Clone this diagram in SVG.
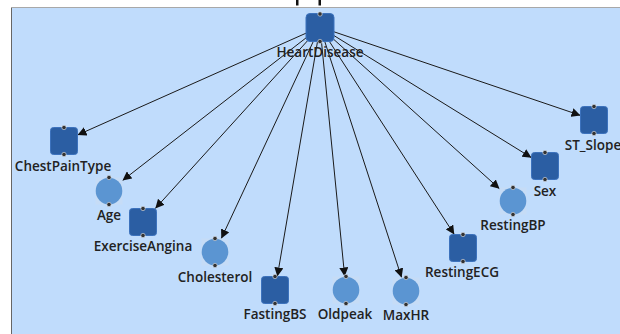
<svg xmlns="http://www.w3.org/2000/svg" width="620" height="334" viewBox="0 0 620 334">
<style>
.bg{fill:#c0dcfc}
.sq{fill:#2b5ea3;stroke:#3c72bd;stroke-width:1}
.ci{fill:#5b95d2}
.cib{fill:#c6dcf6}
.port{fill:#333;stroke:#e8eef8;stroke-width:0.6}
.lbl{font-family:"Open Sans","DejaVu Sans",sans-serif;font-size:13.5px;font-weight:600;fill:#222;text-anchor:middle}
.edge{stroke:#1a1a1a;stroke-width:1;fill:none;marker-end:url(#arr)}
</style>
<defs>
<marker id="arr" viewBox="0 0 10 10" refX="10" refY="5" markerWidth="9" markerHeight="9" markerUnits="userSpaceOnUse" orient="auto">
<path d="M0,0 L10,5 L0,10 z" fill="#111"/>
</marker>
</defs>
<rect x="0" y="0" width="620" height="334" fill="#ffffff"/>
<rect class="bg" x="11" y="8" width="609" height="326"/>
<line x1="11" y1="7.5" x2="620" y2="7.5" stroke="#a8a8a8" stroke-width="1"/>
<line x1="11.5" y1="8" x2="11.5" y2="334" stroke="#666" stroke-width="1"/>
<rect x="296" y="0" width="2.5" height="5.5" fill="#111"/>
<rect x="318.5" y="0" width="2.5" height="5.5" fill="#111"/>
<g id="connectors">
<line class="edge" x1="306" y1="33.2" x2="77.5" y2="135"/>
<line class="edge" x1="306" y1="37.9" x2="122.5" y2="180.5"/>
<line class="edge" x1="307.3" y1="41" x2="155.3" y2="208.5"/>
<line class="edge" x1="313.5" y1="41" x2="221.3" y2="238.5"/>
<line class="edge" x1="317.6" y1="41" x2="277.3" y2="276.5"/>
<line class="edge" x1="321.4" y1="41" x2="344.7" y2="276.5"/>
<line class="edge" x1="324.6" y1="41" x2="401.6" y2="277.5"/>
<line class="edge" x1="329.1" y1="41" x2="454.3" y2="234.5"/>
<line class="edge" x1="334" y1="39.6" x2="499.5" y2="188.8"/>
<line class="edge" x1="334" y1="35.6" x2="531.5" y2="157.7"/>
<line class="edge" x1="334" y1="31.8" x2="580.5" y2="115.4"/>
</g>
<g id="HeartDisease">
<rect class="sq" x="306" y="13.5" width="28" height="28" rx="4" stroke="#5a8ff0"/>
<circle class="port" cx="320" cy="14" r="2.2"/>
<circle class="port" cx="320" cy="41.5" r="2.2"/>
<text class="lbl" x="320" y="57">HeartDisease</text>
</g>
<g id="ChestPainType">
<rect class="sq" x="50.5" y="127.5" width="27" height="27" rx="3"/>
<circle class="port" cx="64" cy="127.5" r="2.2"/>
<circle class="port" cx="64" cy="154.5" r="2.2"/>
<text class="lbl" x="63" y="171">ChestPainType</text>
</g>
<g id="Age">
<rect class="cib" x="95.5" y="177.5" width="27" height="27"/>
<circle class="ci" cx="109" cy="191" r="13.3"/>
<circle class="port" cx="109" cy="177.5" r="2.2"/>
<circle class="port" cx="109" cy="204.5" r="2.2"/>
<text class="lbl" x="109" y="220">Age</text>
</g>
<g id="ExerciseAngina">
<rect class="sq" x="129.5" y="208.5" width="27" height="27" rx="3"/>
<circle class="port" cx="143" cy="208.5" r="2.2"/>
<circle class="port" cx="143" cy="235.5" r="2.2"/>
<text class="lbl" x="143" y="251">ExerciseAngina</text>
</g>
<g id="Cholesterol">
<rect class="cib" x="201.5" y="238.5" width="27" height="27"/>
<circle class="ci" cx="215" cy="252" r="13.3"/>
<circle class="port" cx="215" cy="238.5" r="2.2"/>
<circle class="port" cx="215" cy="265.5" r="2.2"/>
<text class="lbl" x="215" y="282">Cholesterol</text>
</g>
<g id="FastingBS">
<rect class="sq" x="261.5" y="276.5" width="27" height="27" rx="3"/>
<circle class="port" cx="275" cy="276.5" r="2.2"/>
<circle class="port" cx="275" cy="303.5" r="2.2"/>
<text class="lbl" x="275" y="319">FastingBS</text>
</g>
<g id="Oldpeak">
<rect class="cib" x="332.5" y="276.5" width="27" height="27"/>
<circle class="ci" cx="346" cy="290" r="13.3"/>
<circle class="port" cx="346" cy="276.5" r="2.2"/>
<circle class="port" cx="346" cy="303.5" r="2.2"/>
<text class="lbl" x="345" y="319">Oldpeak</text>
</g>
<g id="MaxHR">
<rect class="cib" x="392.5" y="277.5" width="27" height="27"/>
<circle class="ci" cx="406" cy="291" r="13.3"/>
<circle class="port" cx="406" cy="277.5" r="2.2"/>
<circle class="port" cx="406" cy="304.5" r="2.2"/>
<text class="lbl" x="406" y="320">MaxHR</text>
</g>
<g id="RestingECG">
<rect class="sq" x="449.5" y="234.5" width="27" height="27" rx="3"/>
<circle class="port" cx="463" cy="234.5" r="2.2"/>
<circle class="port" cx="463" cy="261.5" r="2.2"/>
<text class="lbl" x="462" y="277">RestingECG</text>
</g>
<g id="RestingBP">
<rect class="cib" x="499.5" y="187.5" width="27" height="27"/>
<circle class="ci" cx="513" cy="201" r="13.3"/>
<circle class="port" cx="513" cy="187.5" r="2.2"/>
<circle class="port" cx="513" cy="214.5" r="2.2"/>
<text class="lbl" x="513" y="230">RestingBP</text>
</g>
<g id="Sex">
<rect class="sq" x="531.5" y="152.5" width="27" height="27" rx="3"/>
<circle class="port" cx="545" cy="152.5" r="2.2"/>
<circle class="port" cx="545" cy="179.5" r="2.2"/>
<text class="lbl" x="545" y="196">Sex</text>
</g>
<g id="ST_Slope">
<rect class="sq" x="580.5" y="106.5" width="27" height="27" rx="3"/>
<circle class="port" cx="594" cy="106.5" r="2.2"/>
<circle class="port" cx="594" cy="133.5" r="2.2"/>
<text class="lbl" x="593" y="150">ST_Slope</text>
</g>
</svg>
